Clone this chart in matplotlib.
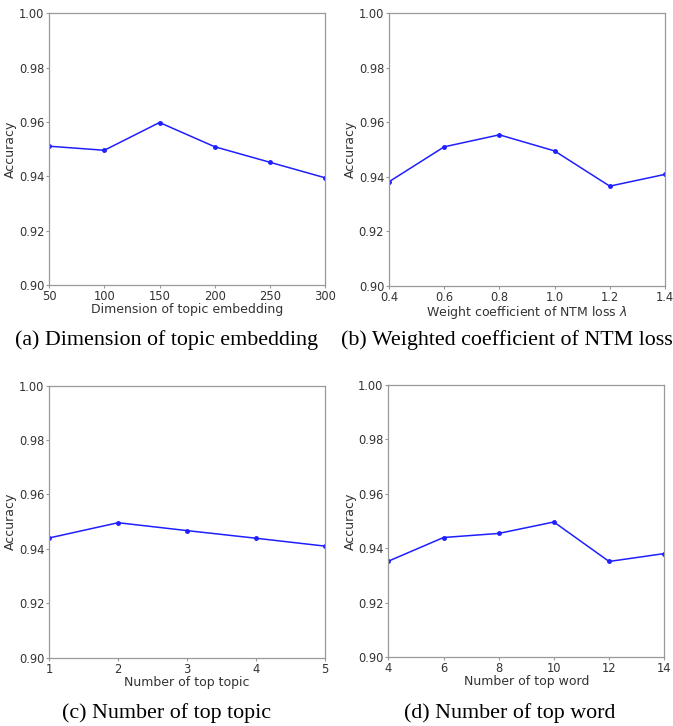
import numpy as np
import matplotlib
matplotlib.use("Agg")
import matplotlib.pyplot as plt

# data
dim_x = [50, 100, 150, 200, 250, 300]
dim_acc = [0.9511, 0.9496, 0.9598, 0.9509, 0.9452, 0.9395]

lam_x = [0.4, 0.6, 0.8, 1.0, 1.2, 1.4]
lam_acc = [0.9382, 0.9510, 0.9554, 0.9495, 0.9366, 0.9409]

topic_x = [1, 2, 3, 4, 5]
topic_acc = [0.9440, 0.9496, 0.9467, 0.9439, 0.9410]

word_x = [4, 6, 8, 10, 12, 14]
word_acc = [0.9352, 0.9439, 0.9454, 0.9496, 0.9351, 0.9380]

xlabels = ["Dimension of topic embedding",
           "Weight coefficient of NTM loss $\\lambda$",
           "Number of top topic",
           "Number of top word"]
captions = ["(a) Dimension of topic embedding",
            "(b) Weighted coefficient of NTM loss",
            "(c) Number of top topic",
            "(d) Number of top word"]

fig = plt.figure(figsize=(6.73, 7.26), dpi=100)

# axes boxes in figure fraction
boxes = [[0.073, 0.607, 0.410, 0.375],
         [0.578, 0.606, 0.410, 0.376],
         [0.073, 0.094, 0.410, 0.375],
         [0.577, 0.095, 0.410, 0.375]]
series = [(dim_x, dim_acc), (lam_x, lam_acc), (topic_x, topic_acc), (word_x, word_acc)]
# caption centres (figure fraction)
cap_x = [0.248, 0.753, 0.248, 0.758]
cap_y = [0.532, 0.532, 0.018, 0.018]

for i in range(4):
    ax = fig.add_axes(boxes[i])
    xs, ys = series[i]
    ax.plot(xs, ys, color="#1f1fff", lw=1.1, marker="o", ms=2.5)
    ax.set_xlim(xs[0], xs[-1])
    ax.set_ylim(0.90, 1.00)
    ax.set_xticks(xs)
    ax.set_yticks([0.90, 0.92, 0.94, 0.96, 0.98, 1.00])
    ax.yaxis.set_major_formatter(matplotlib.ticker.FormatStrFormatter("%.2f"))
    if i == 1:
        ax.xaxis.set_major_formatter(matplotlib.ticker.FormatStrFormatter("%.1f"))
    for s in ax.spines.values():
        s.set_color("#999999")
        s.set_linewidth(0.9)
    ax.tick_params(labelsize=8.3, colors="#999999", labelcolor="#333333",
                   length=2.5, width=0.8, pad=1)
    ax.set_xlabel(xlabels[i], fontsize=9, color="#333333", labelpad=0)
    ax.set_ylabel("Accuracy", fontsize=9, color="#333333", labelpad=1)
    fig.text(cap_x[i], cap_y[i], captions[i], ha="center", va="center",
             family="Liberation Serif", fontsize=15.8, color="black")

fig.savefig("out.png", dpi=100)
